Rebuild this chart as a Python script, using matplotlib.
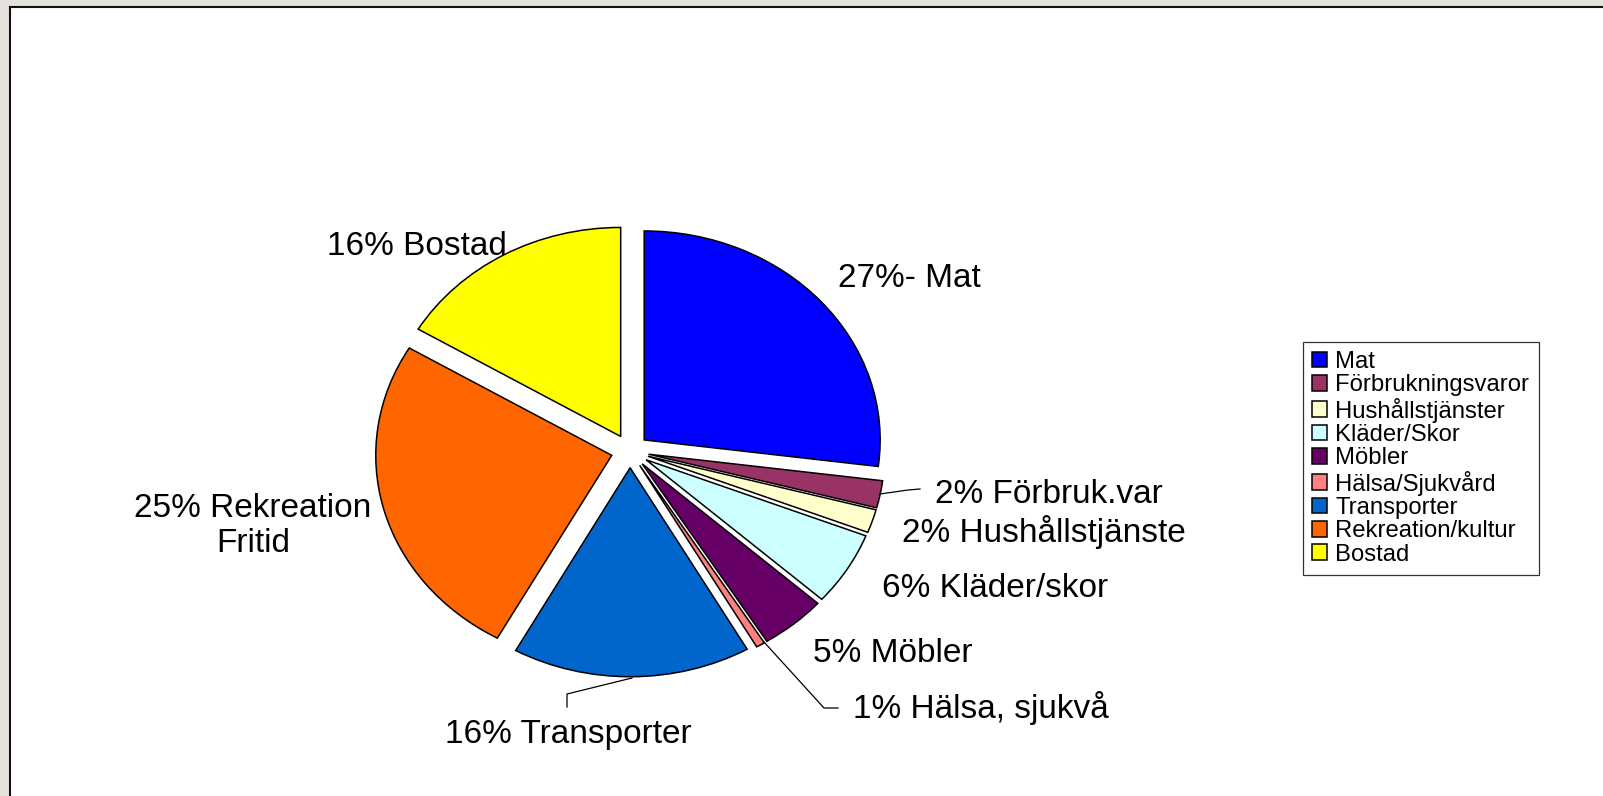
import matplotlib
matplotlib.use("Agg")
import matplotlib.pyplot as plt
from matplotlib.patches import Rectangle
from matplotlib.lines import Line2D

plt.rcParams['font.family'] = ['Liberation Sans', 'DejaVu Sans']

# ---- data ----
categories = ["Mat", "Förbrukningsvaror", "Hushållstjänster", "Kläder/Skor", "Möbler",
              "Hälsa/Sjukvård", "Transporter", "Rekreation/kultur", "Bostad"]
values = [27.0, 2.1, 1.8, 5.7, 4.5, 0.6, 16.3, 25.5, 16.4]
slice_labels = ["27%- Mat", "2% Förbruk.var", "2% Hushållstjänste", "6% Kläder/skor",
                "5% Möbler", "1% Hälsa, sjukvå", "16% Transporter",
                "25% Rekreation\nFritid", "16% Bostad"]
colors = ["#0000FF", "#993366", "#FFFFCC", "#CCFFFF", "#660066",
          "#FF8080", "#0066CC", "#FF6600", "#FFFF00"]

W, H = 1603, 796
fig = plt.figure(figsize=(W / 100, H / 100), dpi=100)
fig.patch.set_facecolor("#E5E1DD")

# white chart area with dark left/top border
fig.patches.append(Rectangle((10 / W, 0), 1 - 10 / W, 1 - 7 / H, transform=fig.transFigure,
                             facecolor="white", edgecolor="none", zorder=-5))
fig.lines.append(Line2D([10 / W, 10 / W], [0, 1 - 7 / H], transform=fig.transFigure,
                        color="#111111", lw=1.5, zorder=-4))
fig.lines.append(Line2D([10 / W, 1], [1 - 7 / H, 1 - 7 / H], transform=fig.transFigure,
                        color="#111111", lw=1.5, zorder=-4))

ax = fig.add_axes([0, 0, 1, 1])
ax.set_facecolor("none")
ax.set_zorder(1)
cx, cy, rx, ry = 630, 451, 236, 209
wedges, _ = ax.pie(values, colors=colors, startangle=90, counterclock=False,
                   explode=[0.08] * len(values), radius=1.0,
                   wedgeprops=dict(edgecolor="black", linewidth=1.1))
ax.set_aspect("auto")
ax.set_xlim(-cx / rx, (W - cx) / rx)
ax.set_ylim((cy - H) / ry, cy / ry)
ax.axis("off")

def fx(px):
    return px / W

def fy(py):
    return 1 - py / H

# slice labels (pixel layout positions)
label_pos = [(838, 287, "left"), (935, 503, "left"), (902, 542, "left"), (882, 597, "left"),
             (813, 662, "left"), (853, 718, "left"), (445, 743, "left"),
             (253, 517, "center"), (327, 255, "left")]
for txt, (px, py, ha) in zip(slice_labels, label_pos):
    lines = txt.split("\n")
    for i, ln in enumerate(lines):
        fig.text(fx(px), fy(py + 35 * i), ln, ha=ha, va="baseline", fontsize=24, zorder=3)

# leader lines
leaders = [[(880, 494), (908, 490), (920, 489)],
           [(764, 642), (824, 708), (838, 708)],
           [(632, 678), (567, 694), (567, 707)]]
for pts in leaders:
    xs = [fx(p[0]) for p in pts]
    ys = [fy(p[1]) for p in pts]
    fig.lines.append(Line2D(xs, ys, transform=fig.transFigure, color="black", lw=0.9, zorder=3))

leg = ax.legend(wedges, categories, loc="upper left",
                bbox_to_anchor=(fx(1303), fy(342)), bbox_transform=fig.transFigure,
                fontsize=17.2, frameon=True, fancybox=False, edgecolor="black",
                borderaxespad=0, borderpad=0.38, handlelength=0.63, handleheight=0.63,
                handletextpad=0.35, labelspacing=0.055)
leg.get_frame().set_linewidth(0.9)

fig.savefig("out.png", dpi=100, facecolor=fig.get_facecolor())
